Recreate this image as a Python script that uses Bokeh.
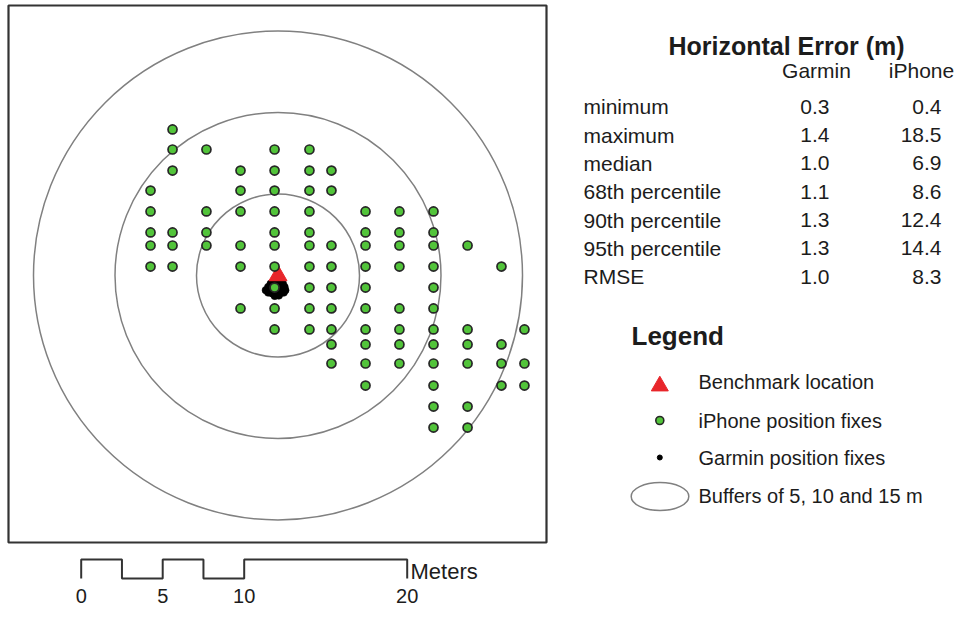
from bokeh.plotting import figure
from bokeh.models import Range1d
from bokeh.embed import file_html
from bokeh.resources import INLINE
from bokeh.core.properties import value

# ---------------- data (metres, relative to benchmark) ----------------
iphone_x = [
    -6.47,
    -6.47, -4.39, -0.21, 1.93,
    -6.47, -2.30, -0.21, 1.93, 3.28,
    -7.82, -2.30, -0.21, 1.93, 3.28,
    -7.82, -4.39, -2.30, -0.21, 1.93, 5.37, 7.45, 9.54,
    -7.82, -6.47, -4.39, -0.21, 1.93, 5.37, 7.45, 9.54,
    -7.82, -6.47, -4.39, -2.30, -0.21, 1.93, 3.28, 5.37, 7.45, 9.54, 11.63,
    -7.82, -6.47, -2.30, -0.21, 1.93, 3.28, 5.37, 7.45, 9.54, 13.71,
    -0.21, 1.93, 3.28, 5.37, 9.54,
    -2.30, -0.21, 1.93, 3.28, 5.37, 7.45, 9.54,
    -0.21, 1.93, 3.28, 5.37, 7.45, 9.54, 11.63, 15.12,
    3.28, 5.37, 7.45, 9.54, 11.63, 13.71,
    3.28, 5.37, 7.45, 9.54, 11.63, 13.71, 15.12,
    5.37, 9.54, 13.71, 15.12,
    9.54, 11.63,
    9.54, 11.63,
]
iphone_y = (
    [8.96] * 1 + [7.73] * 4 + [6.44] * 5 + [5.21] * 5 + [3.93] * 8 + [2.64] * 8
    + [1.84] * 11 + [0.55] * 10 + [-0.74] * 5 + [-2.02] * 7 + [-3.31] * 8
    + [-4.23] * 6 + [-5.40] * 7 + [-6.75] * 4 + [-8.04] * 2 + [-9.33] * 2
)

garmin_x = [-0.45, -0.20, 0.05, 0.30, -0.60, -0.35, -0.10, 0.15, 0.40, -0.75, -0.50,
            -0.25, 0.00, 0.25, 0.45, -0.60, -0.35, -0.10, 0.15, 0.35, -0.20, 0.05]
garmin_y = [-0.50, -0.45, -0.45, -0.50, -0.70, -0.70, -0.65, -0.67, -0.70, -0.90, -0.90,
            -0.85, -0.87, -0.90, -0.90, -1.05, -1.10, -1.15, -1.07, -1.05, -1.25, -1.23]

benchmark_x = [0.0]
benchmark_y = [0.0]
buffer_radii = [5, 10, 15]

stat_names = ["minimum", "maximum", "median", "68th percentile",
              "90th percentile", "95th percentile", "RMSE"]
garmin_err = ["0.3", "1.4", "1.0", "1.1", "1.3", "1.3", "1.0"]
iphone_err = ["0.4", "18.5", "6.9", "8.6", "12.4", "14.4", "8.3"]

scale_ticks = [0, 5, 10, 20]
scale_tick_labels = ["0", "5", "10", "20"]

# ---------------- layout helpers ----------------
PX = 16.3          # pixels per metre
CX, CY = 277.5, 275.0
W, H = 958, 608


def mx(px):
    return (px - CX) / PX


def my(py):
    return (CY - py) / PX


def yb(py, fs):
    # baseline position (picture pixels) -> data y, corrected for text layout
    return my(py - 0.34 * fs)


FONT = value("Liberation Sans")
TXT = "#1c1c1c"

p = figure(width=W, height=H, output_backend="svg", toolbar_location=None,
           x_range=Range1d(mx(0), mx(W)), y_range=Range1d(my(H), my(0)),
           x_axis_type=None, y_axis_type=None, min_border=0,
           background_fill_color="white", border_fill_color="white")
p.outline_line_color = None
p.grid.visible = False

# map frame
p.quad(left=[mx(8)], right=[mx(546)], top=[my(5)], bottom=[my(542)],
       fill_color=None, line_color="#333333", line_width=2.2)

# buffers
p.circle(x=[benchmark_x[0]] * 3, y=[benchmark_y[0]] * 3, radius=buffer_radii,
         fill_color=None, line_color="#808080", line_width=1.5)

# garmin fixes
p.scatter(garmin_x, garmin_y, marker="circle", size=7.5, fill_color="black",
          line_color="black", line_width=0.5)
# benchmark
p.scatter(benchmark_x, benchmark_y, marker="triangle", size=18,
          fill_color="#e8262b", line_color="#e8262b")
# iphone fixes
p.scatter(iphone_x, iphone_y, marker="circle", size=9, fill_color="#52c43a",
          line_color="#262626", line_width=1.7)

# ---------------- table ----------------
IPX = 921  # iPhone column centre (kept inside the canvas)
p.text(x=[mx(786)], y=[yb(54, 25)], text=["Horizontal Error (m)"], text_font=FONT,
       text_font_style="bold", text_font_size="25px", text_align="center",
       text_baseline="alphabetic", text_color=TXT)
p.text(x=[mx(816), mx(IPX)], y=[yb(77, 21)] * 2, text=["Garmin", "iPhone"], text_font=FONT,
       text_font_size="21px", text_align="center", text_baseline="alphabetic", text_color=TXT)
row_y = [yb(113.5 + 28.3 * i, 21) for i in range(len(stat_names))]
p.text(x=[mx(583)] * len(stat_names), y=row_y, text=stat_names, text_font=FONT,
       text_font_size="21px", text_align="left", text_baseline="alphabetic", text_color=TXT)
p.text(x=[mx(829)] * len(garmin_err), y=row_y, text=garmin_err, text_font=FONT,
       text_font_size="21px", text_align="right", text_baseline="alphabetic", text_color=TXT)
p.text(x=[mx(IPX + 20)] * len(iphone_err), y=row_y, text=iphone_err, text_font=FONT,
       text_font_size="21px", text_align="right", text_baseline="alphabetic", text_color=TXT)

# ---------------- legend ----------------
p.text(x=[mx(631)], y=[yb(344, 26)], text=["Legend"], text_font=FONT, text_font_style="bold",
       text_font_size="26px", text_align="left", text_baseline="alphabetic", text_color=TXT)
leg_labels = ["Benchmark location", "iPhone position fixes", "Garmin position fixes",
              "Buffers of 5, 10 and 15 m"]
leg_base = [388, 427, 464, 502]
p.text(x=[mx(698)] * 4, y=[yb(b, 20) for b in leg_base], text=leg_labels, text_font=FONT,
       text_font_size="20px", text_align="left", text_baseline="alphabetic", text_color=TXT)
p.scatter([mx(659.3)], [my(385.5)], marker="triangle", size=17,
          fill_color="#e8262b", line_color="#e8262b")
p.scatter([mx(659.3)], [my(420)], marker="circle", size=8, fill_color="#52c43a",
          line_color="#262626", line_width=1.6)
p.scatter([mx(659.3)], [my(457)], marker="circle", size=5, fill_color="black",
          line_color="black")
p.ellipse(x=[mx(659.5)], y=[my(496)], width=57.6 / PX, height=28 / PX,
          fill_color=None, line_color="#808080", line_width=1.5)

# ---------------- scale bar ----------------
SB = -14  # vertical offset to keep the scale bar labels on the canvas
bar0 = mx(80.7)
bar_top, bar_bot = my(573 + SB), my(592 + SB)
seg = [0, 0, 2.5, 2.5, 5, 5, 7.5, 7.5, 10, 10, 20, 20]
lvl = [bar_bot, bar_top, bar_top, bar_bot, bar_bot, bar_top, bar_top, bar_bot,
       bar_bot, bar_top, bar_top, bar_bot]
p.line([bar0 + s for s in seg], lvl, line_color="#333333", line_width=2)
p.text(x=[bar0 + t for t in scale_ticks], y=[yb(616 + SB, 20)] * len(scale_ticks),
       text=scale_tick_labels, text_font=FONT, text_font_size="20px",
       text_align="center", text_baseline="alphabetic", text_color=TXT)
p.text(x=[mx(410)], y=[yb(592 + SB, 22)], text=["Meters"], text_font=FONT,
       text_font_size="22px", text_align="left", text_baseline="alphabetic", text_color=TXT)

open("out.html", "w").write(file_html(p, INLINE))
